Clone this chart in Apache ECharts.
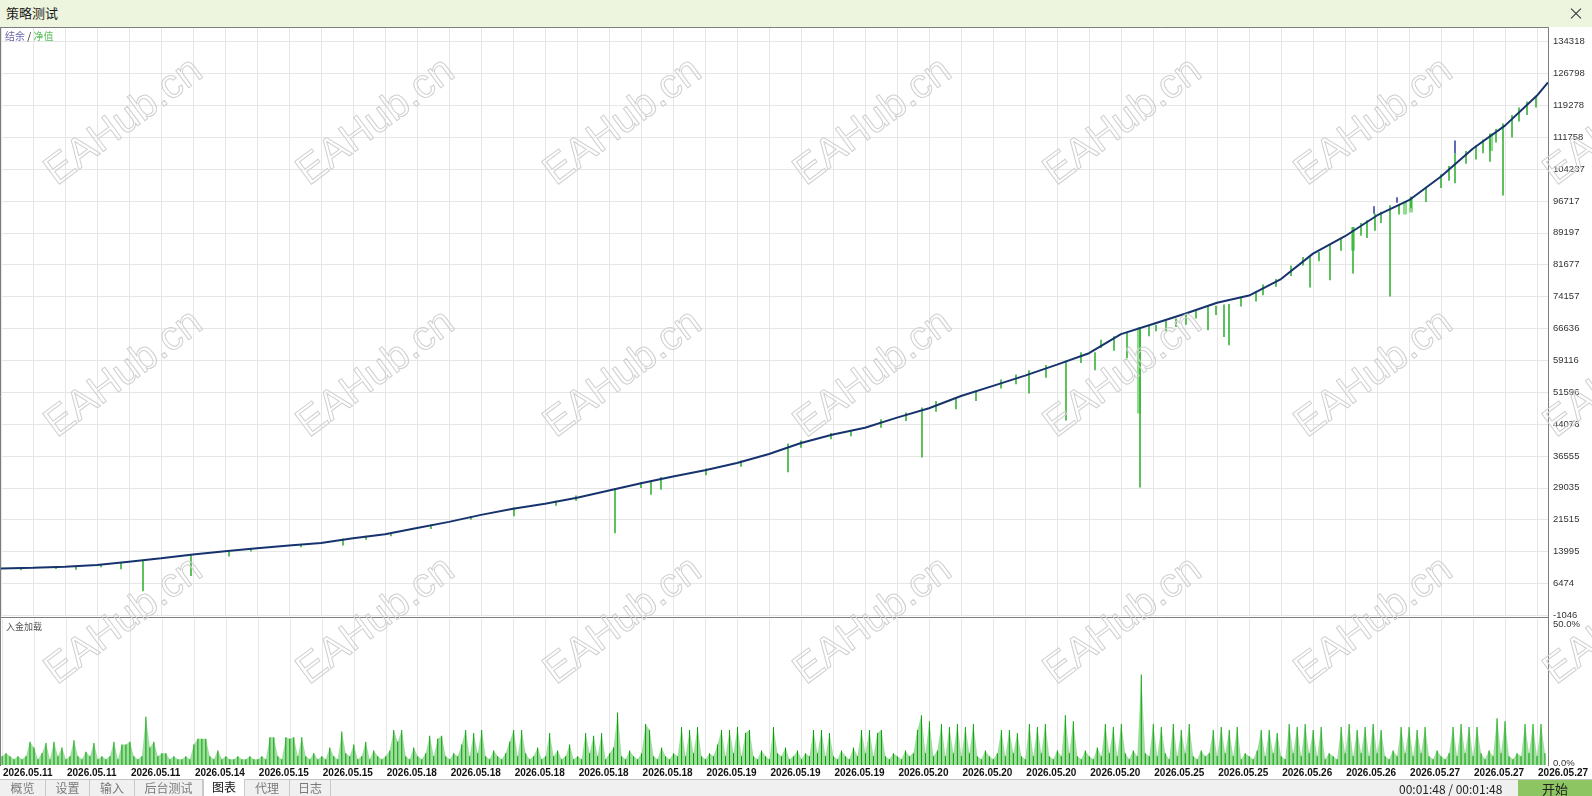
<!DOCTYPE html>
<html><head><meta charset="utf-8">
<script src="https://cdn.jsdelivr.net/npm/echarts@6/dist/echarts.min.js"></script>
<style>
html,body{margin:0;padding:0;width:1592px;height:796px;overflow:hidden;background:#fff;font-family:"Noto Sans CJK SC","Liberation Sans",sans-serif;}
#chart{position:absolute;left:0;top:0;width:1592px;height:796px;}
#titlebar{position:absolute;left:0;top:0;width:1592px;height:27px;background:#eef5de;z-index:5;}
#titlebar .t{position:absolute;left:6px;top:3px;font-size:13px;color:#1a1a1a;}
#titlebar .x1,#titlebar .x2{position:absolute;left:1569px;top:13px;width:14px;height:1px;background:#333;}
#titlebar .x1{transform:rotate(45deg);} #titlebar .x2{transform:rotate(-45deg);}
#tabbar{position:absolute;left:0;top:779px;width:1592px;height:17px;background:#f0f0f0;border-top:1px solid #c4c4c4;z-index:5;font-size:12px;}
.tab{position:absolute;top:0;height:17px;line-height:16px;text-align:center;color:#7a7a7a;border-right:1px solid #c8c8c8;box-sizing:border-box;}
.tab.on{background:#fff;color:#111;border-left:1px solid #c8c8c8;top:-1px;height:18px;}
#clock{position:absolute;left:1399px;top:0;line-height:17px;color:#222;font-size:12px;}
#start{position:absolute;left:1518px;top:0;width:74px;height:17px;line-height:17px;background:#8cc562;text-align:center;color:#222;font-size:13px;}
</style></head>
<body>
<div id="chart"></div>
<div id="titlebar"><span class="t">策略测试</span><div class="x1"></div><div class="x2"></div></div>
<div id="tabbar">
  <div class="tab" style="left:0;width:46px">概览</div>
  <div class="tab" style="left:46px;width:44px">设置</div>
  <div class="tab" style="left:90px;width:45px">输入</div>
  <div class="tab" style="left:135px;width:68px">后台测试</div>
  <div class="tab on" style="left:203px;width:42px">图表</div>
  <div class="tab" style="left:245px;width:45px">代理</div>
  <div class="tab" style="left:290px;width:41px">日志</div>
  <div id="clock">00:01:48 / 00:01:48</div>
  <div id="start">开始</div>
</div>
<script>
// ---------------- data ----------------
const xLabels = ['2026.05.11','2026.05.11','2026.05.11','2026.05.14','2026.05.15','2026.05.15','2026.05.18','2026.05.18','2026.05.18','2026.05.18','2026.05.18','2026.05.19','2026.05.19','2026.05.19','2026.05.20','2026.05.20','2026.05.20','2026.05.20','2026.05.25','2026.05.25','2026.05.26','2026.05.26','2026.05.27','2026.05.27','2026.05.27'];
const yLabels = ['-1046','6474','13995','21515','29035','36555','44076','51596','59116','66636','74157','81677','89197','96717','104237','111758','119278','126798','134318'];
const loadLabels = ['0.0%','50.0%'];
const legendBalance = '结余';
const legendEquity = '净值';
const loadTitle = '入金加载';
const watermark = 'EAHub.cn';

// balance, one value every 32 bars (last value = final bar)
const balance = [10000,10150,10400,10800,11600,12400,13300,14050,14800,15400,16000,17150,18100,19550,21000,22650,24100,25300,26700,28400,30100,31700,33200,34900,37000,39600,41600,43200,45600,47800,50700,53100,55500,58100,60800,65300,67700,70100,72700,74400,78300,84300,88400,93300,96900,102500,109100,114500,121600,124700];

// equity drawdown needles (bar, equity before, equity low)
const dipBar = [120,142,190,342,513,614,650,787,921,1028,1065,1094,1113,1126,1139,1155,1207,1223,1228,1302,1309,1329,1352,1374,1389,1454,1489,1502,1511,
  20,55,75,100,228,250,300,365,390,430,470,555,575,640,660,705,740,800,830,850,880,905,935,955,975,1000,1015,1045,1080,1100,
  1148,1165,1175,1185,1195,1215,1240,1255,1262,1275,1290,1318,1340,1360,1366,1380,1398,1410,1425,1440,1448,1465,1475,1482,1495,1518,1526,1535];
const dipTop = [11300,12000,13300,17100,24400,28900,30500,39500,48000,56800,59000,61000,64800,65600,66900,67500,71800,72300,72400,83500,83700,86400,90600,93700,95700,108000,112500,115000,117000,
  10100,10400,10600,10900,14200,14700,15600,17700,18400,20400,22400,26000,27200,30300,31600,33600,35500,40200,42000,42700,45200,46800,49500,50400,52000,54600,55800,58000,61000,64000,
  67300,68500,69000,70000,70900,72000,73800,75500,77000,78300,81500,84700,88000,91500,92200,94200,96000,97800,99900,103000,105000,108500,109800,111200,113700,118800,120200,121500];
const dipLow = [9800,4600,8200,15450,22350,18300,27400,32700,36200,51300,44900,56800,61400,59600,29100,66000,66200,64600,62700,81500,76300,78000,79600,89700,74200,100900,106000,98000,111700,
  9600,9900,9700,10300,12800,14000,15000,16800,17600,19300,21500,24800,26000,29000,28600,32000,34000,38500,40500,41200,43200,44800,47000,47600,49500,52500,53500,55000,58500,62000,
  64800,66000,67000,67500,69000,69800,71800,73000,74500,76500,79000,82500,85000,88500,88000,91500,93500,95000,96500,99800,101500,105500,106500,108000,110500,115500,117000,118800];
// wider light equity bands
const bandBar = [1138,1352,1404,1410,1490];
const bandTop = [66900,90600,96600,97500,112700];
const bandLow = [46600,85000,93500,94000,108500];
// short balance up-ticks
const upBar = [1373,1396,1454];
const upBase = [93700,96300,108000];
const upHigh = [95500,97600,111000];

// deposit load %, one value every 4 bars
const load = [
3,4,3,2,3,2,3,8,6,2,4,7.5,2,8,3,6,
2,3,8.5,3,2,4.5,3,7.5,2,3,2,3,8,2,7,7,
8,3,2,3,16.5,6,8,3,4,4,2,3,2,2,3,2,
7,9,9,9,3,2,5,2,3,2,2,3,2,2,3,2,
2,3,2,9.5,9.5,3,2,9.5,9,9.5,3,9.5,3,2,4,2,
3,2,6,3,2,11.5,4,3,7,2,3,8,2,5,3,2,
3,5,12,8,12,3,2,6,3,2,4,10,3,9,10,3,
2,4,3,7,12,3,11,4,12,3,2,5,3,2,4,8,
12,3,12,4,2,3,6,2,3,11,3,5,2,3,7,2,
3,2,11,4,10,3,11,2,4,6,18,3,2,5,3,2,
4,14,12,3,2,6,3,2,4,3,13,3,12,4,13,3,
2,4,3,7,12,3,12,4,13,3,11,12,3,2,5,3,
2,13,4,3,6,2,3,5,2,4,3,12,4,12,3,11,
3,2,5,3,2,6,3,12,4,12,3,11,12,3,2,4,
3,2,5,3,4,12,17,4,15,3,5,14,3,13,4,14,
3,13,4,14,3,2,5,3,2,4,12,3,12,4,11,3,
2,14,3,13,4,14,3,2,5,3,17,4,15,3,2,5,
3,2,6,3,14,4,13,3,14,4,2,5,3,31,4,3,
14,3,13,4,2,14,3,12,4,14,3,2,5,3,4,12,
3,13,4,12,3,13,2,4,3,2,5,12,3,12,4,11,
3,2,14,4,13,3,14,4,12,3,13,2,4,3,2,13,
4,14,3,12,4,13,3,14,4,12,3,2,5,3,13,4,
13,3,12,4,13,3,2,5,3,2,4,13,3,14,4,13,
3,13,4,2,5,3,16,4,15,3,2,4,3,14,4,14,
3,14,4];

// ---------------- layout constants ----------------
const XMAX = 1547, XSTEP_GRID = 32, XLABEL_EVERY = 64;
const BAL_STEP = 32, LOAD_STEP = 4;
const Y0 = -1046, YI = 7520.22, TICKPX = 31.87;
const G0_TOP = 27, G0_H = 588.3;
const YMAX = Y0 + YI * G0_H / TICKPX;

const balData = balance.map((v, i) => [Math.min(i * BAL_STEP, XMAX), v]);
const dipData = dipBar.map((b, i) => [b, dipTop[i], dipLow[i]]);
const bandData = bandBar.map((b, i) => [b, bandTop[i], bandLow[i]]);
const upData = upBar.map((b, i) => [b, upBase[i], upHigh[i]]);
const loadData = load.map((v, i) => [i * LOAD_STEP, v]);

function needle(color, width) {
  return function (params, api) {
    const p1 = api.coord([api.value(0), api.value(1)]);
    const p2 = api.coord([api.value(0), api.value(2)]);
    return { type: 'line', shape: { x1: p1[0], y1: p1[1], x2: p2[0], y2: p2[1] },
      style: { stroke: color, lineWidth: width } };
  };
}

const gridColor = '#e6e6e6';
const frameColor = '#7d7d7d';

const wmX = [124, 376, 623, 873, 1123, 1374, 1623];
const wmY = [122, 374, 621];
const graphics = [];
wmY.forEach(y => wmX.forEach(x => graphics.push({
  type: 'text', x: x, y: y, rotation: 0.64, z: 100, silent: true,
  style: { text: watermark, x: 0, y: 0, align: 'center', verticalAlign: 'middle',
    font: '41px "Liberation Sans", Arial, sans-serif', fill: 'rgba(255,255,255,0)', stroke: '#d0d0d0', lineWidth: 1 }
})));
// frame lines
graphics.push(
  { type: 'line', z: 50, silent: true, shape: { x1: 0.5, y1: 27, x2: 0.5, y2: 766 }, style: { stroke: frameColor, lineWidth: 1 } },
  { type: 'line', z: 50, silent: true, shape: { x1: 0, y1: 27.5, x2: 1549, y2: 27.5 }, style: { stroke: frameColor, lineWidth: 1 } },
  { type: 'line', z: 50, silent: true, shape: { x1: 0, y1: 617.5, x2: 1549, y2: 617.5 }, style: { stroke: frameColor, lineWidth: 1 } },
  { type: 'line', z: 50, silent: true, shape: { x1: 1548.5, y1: 27, x2: 1548.5, y2: 766 }, style: { stroke: frameColor, lineWidth: 1 } },
  { type: 'text', z: 50, silent: true, x: 5, y: 36, style: { text: '{a|' + legendBalance + '} {s|/} {b|' + legendEquity + '}',
      verticalAlign: 'middle', font: '10px "Noto Sans CJK SC"',
      rich: { a: { fill: '#6b6ba8', font: '10px "Noto Sans CJK SC"' }, s: { fill: '#222', font: '10px "Noto Sans CJK SC"' }, b: { fill: '#5cc25c', font: '10px "Noto Sans CJK SC"' } } } },
  { type: 'text', z: 50, silent: true, x: 6, y: 627, style: { text: loadTitle, verticalAlign: 'middle', font: '9px "Noto Sans CJK SC"', fill: '#555' } }
);

const chart = echarts.init(document.getElementById('chart'), null, { renderer: 'canvas' });
chart.setOption({
  animation: false,
  backgroundColor: 'transparent',
  graphic: graphics,
  grid: [
    { left: 1, top: G0_TOP, width: XMAX, height: G0_H },
    { left: 1, top: 619, width: XMAX, height: 146 }
  ],
  xAxis: [
    { type: 'value', gridIndex: 0, min: 0, max: XMAX, interval: XSTEP_GRID,
      axisLine: { show: false }, axisTick: { show: false }, axisLabel: { show: false },
      splitLine: { show: true, lineStyle: { color: gridColor, width: 1 } } },
    { type: 'value', gridIndex: 1, min: 0, max: XMAX, interval: XSTEP_GRID,
      axisLine: { show: false }, axisTick: { show: false },
      splitLine: { show: true, lineStyle: { color: gridColor, width: 1 } },
      axisLabel: { show: true, align: 'left', margin: 3, padding: [0, 0, 0, 1], showMaxLabel: true,
        color: '#111', fontSize: 10, fontWeight: 'bold', fontFamily: '"Liberation Sans", Arial, sans-serif',
        formatter: v => (v % XLABEL_EVERY === 0 ? (xLabels[v / XLABEL_EVERY] || '') : '') } }
  ],
  yAxis: [
    { type: 'value', gridIndex: 0, position: 'right', min: Y0, max: YMAX, interval: YI,
      axisLine: { show: false }, axisTick: { show: false },
      splitLine: { show: true, lineStyle: { color: gridColor, width: 1 } },
      axisLabel: { show: true, margin: 5, color: '#333', fontSize: 9.5, fontFamily: '"Liberation Sans", Arial, sans-serif',
        showMaxLabel: false, showMinLabel: true,
        formatter: v => { const k = Math.round((v - Y0) / YI); return Math.abs(v - (Y0 + k * YI)) < 1 ? (yLabels[k] || '') : ''; } } },
    { type: 'value', gridIndex: 1, position: 'right', min: 0, max: 50, interval: 50,
      axisLine: { show: false }, axisTick: { show: false }, splitLine: { show: false },
      axisLabel: { show: true, margin: 5, color: '#333', fontSize: 9.5, fontFamily: '"Liberation Sans", Arial, sans-serif',
        formatter: v => (v === 0 ? '{b|' + loadLabels[0] + '}' : '{t|' + loadLabels[1] + '}'),
        rich: { t: { padding: [10, 0, 0, 0], fontSize: 9.5, color: '#333' }, b: { padding: [0, 0, 4, 0], fontSize: 9.5, color: '#333' } } } }
  ],
  series: [
    { type: 'custom', xAxisIndex: 0, yAxisIndex: 0, z: 2, renderItem: needle('#8fdc8f', 4), data: bandData, clip: true },
    { type: 'custom', xAxisIndex: 0, yAxisIndex: 0, z: 3, renderItem: needle('#27ad27', 1.5), data: dipData, clip: true },
    { type: 'custom', xAxisIndex: 0, yAxisIndex: 0, z: 4, renderItem: needle('#2a3a9a', 1.5), data: upData, clip: true },
    { type: 'line', xAxisIndex: 0, yAxisIndex: 0, z: 5, data: balData, showSymbol: false, symbol: 'none',
      lineStyle: { color: '#16336e', width: 2 } },
    { type: 'line', xAxisIndex: 1, yAxisIndex: 1, z: 1, data: loadData, showSymbol: false, symbol: 'none',
      lineStyle: { width: 0, opacity: 0 }, areaStyle: { color: '#2fb32f', opacity: 0.45 } },
    { type: 'bar', xAxisIndex: 1, yAxisIndex: 1, z: 2, data: loadData, barWidth: 1,
      itemStyle: { color: '#00a000' } }
  ]
});
</script>
</body></html>
